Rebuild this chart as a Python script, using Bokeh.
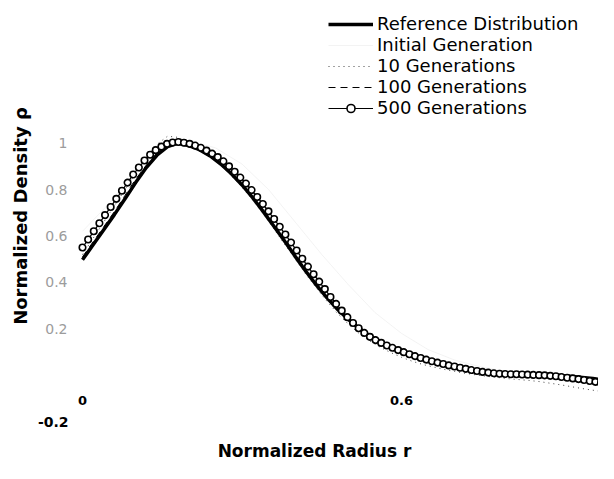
from bokeh.plotting import figure
from bokeh.models import Range1d, FixedTicker, Legend, LegendItem
from bokeh.core.properties import value
from bokeh.embed import file_html
from bokeh.resources import INLINE

# ---- data ----
# 500 generations: marker samples
r_500 = [round(i * 0.0106, 4) for i in range(95)]
y_500 = [0.55, 0.585, 0.62, 0.655, 0.69, 0.725, 0.76, 0.795, 0.83, 0.865,
         0.895, 0.925, 0.95, 0.97, 0.985, 0.997, 1.003, 1.005, 1.002, 0.997,
         0.99, 0.98, 0.968, 0.955, 0.94, 0.922, 0.9, 0.877, 0.852, 0.826,
         0.798, 0.768, 0.738, 0.706, 0.673, 0.64, 0.606, 0.572, 0.537, 0.502,
         0.468, 0.435, 0.403, 0.371, 0.337, 0.307, 0.278, 0.25, 0.225, 0.202,
         0.182, 0.165, 0.151, 0.139, 0.128, 0.118, 0.108, 0.099, 0.09, 0.082,
         0.074, 0.067, 0.06, 0.054, 0.048, 0.042, 0.037, 0.032, 0.027, 0.022,
         0.018, 0.014, 0.011, 0.008, 0.006, 0.005, 0.004, 0.004, 0.003, 0.002,
         0.001, 0.0, -0.001, -0.003, -0.005, -0.008, -0.011, -0.014, -0.017, -0.021,
         -0.025, -0.029, -0.033, -0.037, -0.041]

# curves sampled every 0.02
r_grid = [round(i * 0.02, 2) for i in range(51)]
y_ref = [0.497, 0.562, 0.627, 0.692, 0.76, 0.83, 0.895, 0.948, 0.985, 1.0,
         0.99, 0.972, 0.945, 0.91, 0.868, 0.82, 0.765, 0.705, 0.642, 0.578,
         0.512, 0.448, 0.388, 0.333, 0.283, 0.24, 0.202, 0.17, 0.143, 0.12,
         0.1, 0.083, 0.068, 0.056, 0.045, 0.035, 0.027, 0.02, 0.014, 0.01,
         0.007, 0.005, 0.004, 0.003, 0.001, -0.002, -0.006, -0.01, -0.015, -0.02,
         -0.025]
y_10 = [0.52, 0.59, 0.66, 0.73, 0.80, 0.87, 0.94, 0.995, 1.03, 1.025,
        1.0, 0.975, 0.945, 0.905, 0.86, 0.81, 0.755, 0.695, 0.63, 0.565,
        0.5, 0.435, 0.375, 0.318, 0.265, 0.22, 0.18, 0.148, 0.12, 0.097,
        0.077, 0.06, 0.046, 0.035, 0.025, 0.016, 0.008, 0.001, -0.005, -0.01,
        -0.015, -0.019, -0.023, -0.028, -0.035, -0.042, -0.05, -0.058, -0.065, -0.072,
        -0.078]
y_100 = [0.51, 0.575, 0.64, 0.705, 0.775, 0.845, 0.905, 0.957, 0.99, 1.003,
         0.995, 0.977, 0.95, 0.915, 0.872, 0.823, 0.768, 0.708, 0.645, 0.58,
         0.515, 0.452, 0.392, 0.337, 0.287, 0.243, 0.205, 0.172, 0.145, 0.122,
         0.102, 0.085, 0.07, 0.057, 0.046, 0.036, 0.028, 0.021, 0.015, 0.01,
         0.006, 0.003, 0.001, -0.001, -0.004, -0.008, -0.012, -0.017, -0.022, -0.028,
         -0.034]

# initial generation (very faint in the reference)
r_init = [round(i * 0.05, 2) for i in range(21)]
y_init = [0.62, 0.74, 0.88, 0.98, 1.01, 0.98, 0.91, 0.8, 0.66, 0.52,
          0.39, 0.27, 0.18, 0.11, 0.065, 0.035, 0.015, 0.0, -0.01, -0.02, -0.035]

# tick labels
y_tick_vals = [0.2, 0.4, 0.6, 0.8, 1.0]
y_tick_labels = ["0.2", "0.4", "0.6", "0.8", "1"]
y_neg_tick_vals = [-0.2]
y_neg_tick_labels = ["-0.2"]
x_tick_vals = [0.0, 0.6]
x_tick_labels = ["0", "0.6"]

# ---- figure ----
p = figure(width=598, height=463, output_backend="svg", toolbar_location=None,
           x_range=Range1d(-0.0978, 0.9705), y_range=Range1d(-0.243, 1.6151),
           min_border_left=30, min_border_right=0, min_border_top=0,
           min_border_bottom=31)
p.outline_line_color = None
p.xgrid.visible = False
p.ygrid.visible = False

for ax in (p.xaxis[0], p.yaxis[0]):
    ax.ticker = FixedTicker(ticks=[])
    ax.axis_line_color = None
    ax.major_tick_line_color = None
    ax.minor_tick_line_color = None
    ax.major_tick_out = 0
    ax.major_tick_in = 0
    ax.major_label_standoff = 0
    ax.major_label_text_font_size = "0px"
    ax.axis_label_text_font = "DejaVu Sans"
    ax.axis_label_text_font_style = "bold"
    ax.axis_label_text_color = "black"

p.yaxis[0].axis_label = "Normalized Density ρ"
p.yaxis[0].axis_label_text_font_size = "18px"
p.yaxis[0].axis_label_standoff = 0
p.xaxis[0].axis_label = "Normalized Radius r"
p.xaxis[0].axis_label_text_font_size = "17px"
p.xaxis[0].axis_label_standoff = 9

# ---- series ----
r_init_line = p.line(r_init, y_init, line_color="#eeeeee", line_width=0.7)
r_10 = p.line(r_grid, y_10, line_color="#444444", line_width=1, line_dash="1 4")
r_100 = p.line(r_grid, y_100, line_color="black", line_width=1, line_dash="7 5")
r_ref = p.line(r_grid, y_ref, line_color="black", line_width=3.5)
r_500l = p.line(r_500, y_500, line_color="black", line_width=1.2)
r_500m = p.scatter(r_500, y_500, marker="circle", size=6.5, fill_color="white",
                   line_color="black", line_width=1.6)

# ---- tick labels ----
p.text(x=[0.0] * len(y_tick_vals), y=y_tick_vals, text=y_tick_labels,
       x_offset=-15, text_align="right", text_baseline="middle",
       text_font=value("DejaVu Sans"), text_font_size=value("14px"),
       text_color="#9c9c9c")
p.text(x=[0.0] * len(y_neg_tick_vals), y=y_neg_tick_vals, text=y_neg_tick_labels,
       x_offset=-14, text_align="right", text_baseline="middle",
       text_font=value("DejaVu Sans"), text_font_size=value("14px"),
       text_font_style="bold", text_color="black")
p.text(x=x_tick_vals, y=[0.0] * len(x_tick_vals), text=x_tick_labels,
       y_offset=25, text_align="center", text_baseline="middle",
       text_font=value("DejaVu Sans"), text_font_size=value("13px"),
       text_font_style="bold", text_color="black")

# ---- legend ----
legend = Legend(items=[
    LegendItem(label="Reference Distribution", renderers=[r_ref]),
    LegendItem(label="Initial Generation", renderers=[r_init_line]),
    LegendItem(label="10 Generations", renderers=[r_10]),
    LegendItem(label="100 Generations", renderers=[r_100]),
    LegendItem(label="500 Generations", renderers=[r_500l, r_500m]),
], location=(298, 313))
legend.padding = 0
legend.spacing = 0
legend.margin = 0
legend.glyph_width = 45
legend.glyph_height = 20
legend.label_height = 20
legend.label_standoff = 4
legend.label_text_font = "DejaVu Sans"
legend.label_text_font_size = "18px"
legend.label_text_color = "black"
legend.border_line_color = None
legend.background_fill_alpha = 0
p.add_layout(legend)

open("out.html", "w").write(file_html(p, INLINE))
